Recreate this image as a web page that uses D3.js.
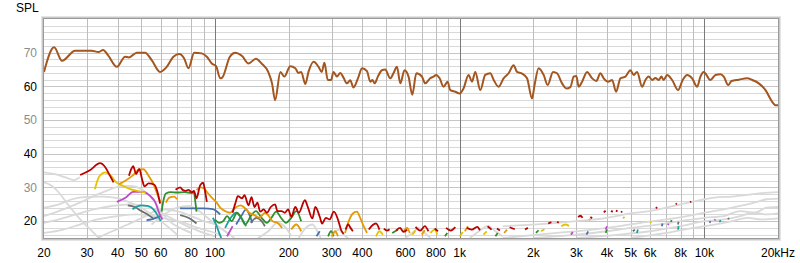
<!DOCTYPE html>
<html><head><meta charset="utf-8">
<script src="https://cdn.jsdelivr.net/npm/d3@7/dist/d3.min.js"></script>
<style>html,body{margin:0;padding:0;background:#fff;}svg{display:block;font-family:"Liberation Sans",Arial,sans-serif;}</style>
</head><body><svg id="c" width="800" height="263"></svg>
<script>
// ---- data ----
const yTicks = [20,30,40,50,60,70];
const yTickColors = {20:"#000",30:"#8c8c8c",40:"#000",50:"#8c8c8c",60:"#000",70:"#8c8c8c"};
const xTickVals = [20,30,40,50,60,80,100,200,300,400,600,800,1000,2000,3000,4000,5000,6000,8000,10000,20000];
const xTickLabels = ["20","30","40","50","60","80","100","200","300","400","600","800","1k","2k","3k","4k","5k","6k","8k","10k","20kHz"];

const mainFreq = [20,22,23.7,26.8,29.9,31.3,33.4,34.9,36.5,39.7,42.9,44.5,47.9,51.8,55.1,59.6,63.5,67.6,71.5,74.8,77.9,82.2,88.3,92.6,97,101,105,107,115,121,129,137,147,155,165,171,176,185,192,203,213,219,225,234,241,253,265,273,280,289,298,305,315,325,335,346,357,368,384,399,418,431,440,449,463,481,496,520,537,554,572,595,618,640,665,701,723,758,782,802,828,859,892,915,960,999,1037,1087,1123,1158,1214,1272,1334,1376,1442,1512,1585,1661,1716,1799,1885,1976,2019,2102,2204,2288,2408,2500,2621,2729,2835,2924,2998,3064,3164,3316,3476,3620,3758,3878,4042,4198,4358,4538,4756,4986,5144,5310,5566,5742,5924,6118,6310,6508,6676,6822,7044,7384,7812,8158,8504,8914,9344,9638,9942,10594,11104,11638,12006,12514,12910,13826,14964,15686,16692,17780,18940,19536,20000];
const mainSPL = [64.3,71.6,67.6,70.6,70.6,70.6,70.2,70.8,69.3,65.8,68.8,68.6,70.0,70.0,67.8,64.3,65.8,68.8,69.6,68.3,65.4,70.0,69.8,68.8,66.8,66.0,62.4,62.6,68.8,70.0,69.0,66.8,68.2,66.8,64.3,60.9,55.9,64.3,62.9,66.0,65.4,64.0,64.3,60.7,64.3,67.3,65.8,64.3,67.0,61.9,61.9,64.3,62.9,64.0,62.6,60.9,61.8,59.7,62.4,65.4,64.5,61.4,61.9,60.9,62.9,64.8,65.0,62.4,64.0,65.8,60.9,64.8,62.9,57.5,63.9,62.9,60.9,62.4,62.9,63.4,62.4,59.9,61.4,58.9,58.4,57.9,59.4,63.4,61.4,64.3,58.9,63.4,63.9,62.0,59.9,62.4,63.9,66.3,64.3,63.8,62.4,56.4,60.0,65.4,63.4,60.4,64.3,63.9,60.9,59.4,59.8,62.9,63.1,59.9,61.4,64.3,62.4,61.6,63.9,62.4,61.4,61.9,58.4,62.4,62.9,64.8,63.4,64.3,59.9,61.9,62.9,61.9,62.5,61.9,62.9,61.9,63.4,61.9,58.9,61.9,63.4,62.4,59.9,62.9,64.3,61.9,63.4,63.6,62.9,60.4,61.6,62.0,62.4,61.9,60.9,58.9,55.4,54.4,54.4];

// harmonic / other traces: [freq, dB], null = gap
const redTrace = [[28.1,33.7],[30.8,35.1],[33.9,37.2],[35.6,36],[37.2,33.5],[38.5,31.5],null,
 [44.5,33.5],[45.5,35.5],[46.3,36.3],[47.6,34],[49,35.5],[50.5,32],[51.5,30.3],[53.5,31.2],[56.5,30.8],[58,29],[59.6,25.2],null,
 [69,29.3],[72,30],[74,29.2],[76,29],[78,29.3],[80.4,28.5],[82,29],[84,26.8],[87,30.7],[89.4,31.4],[91,29],[92.6,25.7],null,
 [118,22.5],[121,25.2],[124,27.4],[129,26.8],[132,27.7],[137,24.7],[141,27.1],[145,24.2],[149,25.5],[153,22.8],[158,23.5],[163,22.5],[169,24.2],[176,25],[180,23],[187,23],[193,22.5],[199,23.5],[205,21.3],[213,24.2],[220,22.5],[233,26.2],[240,24],[250,20.8],[257,24.2],[268,21.3],[274,19.3],[284,21],[294,20.5],[306,22.8],[318,20.5],[328,17.3],[336,16.2],null,
 [342,17.5],[350,19],[358,18],[366,17],null,
 [425,17.5],[440,18.8],[455,19.3],[470,17.5],null,[490,17.8],[505,17.2],[517,17.6],null,[550,17.2],[570,18],[590,16.8],[610,17.5],null,
 [660,18.3],[690,17.2],[720,18.5],[745,17],null,[790,17.8],[815,17],null,[880,18],[920,17.2],[960,18.2],null,[1070,18],[1120,17.5],[1180,18.3],[1210,17.3],null,
 [1300,18.5],[1350,17.5],null,[1420,17.8],[1460,17.2],null,[1600,18.2],[1680,17.6],null,[1850,17.5],[1900,18],null,
 [2300,19.3],[2370,19.7],null,[2500,19.8],[2540,19.5],null,[3050,21.2],[3110,21.6],[3180,21],null,[3420,21.2],[3480,20.9],null,
 [3880,22.6],[3950,23.1],null,[4150,23],[4230,22.8],null,[4350,23.1],[4420,22.9],null,[4560,22.9],[4620,22.6],null,
 [6330,23.8],[6420,24.1],null,[7640,25],[7720,25.3],null,[8750,25.6],[8830,25.9]];
const orangeTrace = [[40.5,31],[43,32],[46,33.5],[49,35.3],[51,35.4],[53.5,33.5],[56,31],[58.5,27.5],[60,25.5],null,
 [63,25.5],[65,27],[68,27.3],[70,26.5],null,
 [84,29.2],[87,30],[90,29.8],[93,28.5],[97,27],[101,25.7],[105,24],[110,23],[115,22.5],[121,24],[127,24.7],[132,24],[138,22.5],[145,21.8],[152,21],[160,22.5],[166,21.5],[172,20],[180,19.5],[188,18],null,
 [205,17.5],[215,19],[225,17],null,[300,15.5],[310,17],[318,15.5],null,
 [340,16.5],[350,19.5],[365,22.2],[380,22.8],[392,21],[405,18.5],[418,16.5],null,
 [590,17],[610,18],[625,16.5],null,[700,16],[720,17.3],null,[1050,17],[1080,18.5],null,[1520,16.5],[1560,17.5]];
const yellowTrace = [[32.3,29.5],[33.5,33],[35.6,34.5],[37.5,33.5],[39.5,31.5],[42,30.5],[45,29.5],[48,29],[52,28.5],null,
 [455,15.5],[470,17],[485,16],null,[640,16],[660,17.2],null,[760,16.5],[790,17.5],[810,16],null,[1000,15.5],[1030,16.8],null,[1250,16],[1290,17],null,
 [2150,17],[2220,17.6],null,[2600,18.5],[2700,19],[2800,18.6],null,[3380,20.3],[3420,20.7],null,[4650,20.8],[4720,21.3],null,[6000,19.5],[6080,19.8]];
const greenTrace = [[60.5,22.8],[61.5,26],[63,28.2],[66,28.6],[70,28.5],[75,28.6],[80,28.4],[82,28.5],[83,26],[84,22.8],null,
 [100,20.5],[104,19.5],[108,20],[112,21.5],[117,20],[123,22.5],[128,21],[133,19],[140,21.5],[147,23],[155,21],[163,19.5],[170,21],[178,22.8],[186,21],[195,19.5],[205,21],[215,23],[225,20],null,
 [290,15.5],[298,17],[305,15.5],null,[530,16.5],[560,17.5],null,[870,15.5],[890,16.5],null,[1400,15.5],[1430,16.5],null,[2050,16.5],[2100,17.3],null,[3950,16.5],[4000,17.5],null,[7300,19.8],[7350,20.3]];
const tealTrace = [[46,23.5],[48,24.3],[50,24.7],[53,24.5],[56,23.5],[58.5,21.5],[60,20],null,
 [98,21],[101,19],[104,16.5],[106,15],null,[110,18],[116,21],[122,22.5],[128,21],[134,18.5],null,
 [5300,16.5],[5350,17.5],null,[7800,17.5],[7850,18.5],null,[11500,19.8],[11700,20.2]];
const blueTrace = [[52.5,20.3],[55,20.5],[57.5,21],[59.6,21.5],null,
 [72,23.8],[80,23.8],[90,23.8],[98,23.6],[102,22.8],[105,22],null,[122,19],[128,21.5],[134,23.5],[138,22],[142,19.5],null,
 [260,15.5],[268,17],null,[3300,16],[3350,17],null,[6700,18.5],[6750,19.3],null,[10500,19.5],[10600,20]];
const magentaTrace = [[39.7,25.7],[43.5,27.2],[46.2,28.7],[50.5,28.7],[54.3,27.5],[56.9,25.7],[59.6,21.8],[61,20.5],null,
 [112,15.5],[116,17.5],[118,18.5],null,[2850,16],[2900,16.8],null,[3950,17.5],[4000,18.5],null,[7100,18.8],[7150,19.3],null,[11000,20.2],[11100,20.5]];
const darkGrayTrace = [[44,24.7],[47,24.2],[50,23],[53,22],[56,20.8],null,[72,21.8],[76,21.3],[80,20.5],[84,19.3],null,
 [140,19.5],[148,21],[155,20],[160,18.5],null,[5100,17],[5200,17.5],null,[7800,19],[7850,19.8],null,[12500,20.5],[12600,21]];
const lightGrayTraces = [
 [[20,34.5],[22,34],[24.5,33],[26.5,32.2],[28,33]],
 [[20,31.5],[21.5,30.5],[23,28.5],[25,25],[27,22],[29,19.5],[31,17.5],[33,15.5],[34,15]],
 [[20,24],[23,25],[26,26.5],[30,27.2],[35,27.3],[40,26.8],[45,25.5],[50,24],[55,22],[60,20],[65,18],[70,16]],
 [[20,21.5],[24,23.5],[28,25.5],[32,27.5],[36,29],[40,30.2],[45,30.5],[50,29.5],[55,27],[60,23],[65,20],[72,18],[80,16.5]],
 [[20,19.5],[23,20.5],[27,22],[32,23.5],[38,24.5],[45,25],[52,24.5],[60,22.5],[70,20],[80,18],[90,16.5],[100,15.5]],
 [[20,16.5],[24,17.5],[28,19],[33,20.5],[40,21.5],[48,22],[56,21.5],[65,20.5],[75,19.5],[85,18],[95,17],[105,16]],
 [[33,15],[38,17],[44,19],[52,21.5],[60,23.5],[70,23],[80,21.5],[90,20],[100,19],[110,17],[120,15]],
 [[55,19],[62,22],[70,24],[78,24.5],[86,23],[95,20.5],[105,18],[115,16]],
 [[150,15],[165,17],[180,19.5],[195,18],[205,15.5]],
 [[220,15],[235,18],[250,19],[262,17],[270,15]],
 [[300,15],[320,17.5],[335,16],[350,15]],
 [[600,15],[640,16.5],[680,18],[720,16.5],[760,15]],
 [[1100,15],[1200,17],[1300,18.5],[1400,17],[1500,15.5]],
 [[1500,18.5],[2500,19.5],[3000,20],[4000,21],[5000,22.3],[6000,23],[7000,24],[8000,25],[9000,25.8],[10000,26.5],[11000,27],[13000,27.3],[15000,27.8],[17000,28.3],[20000,28.6]],
 [[1500,15],[2500,16.5],[3500,17.5],[4500,18.5],[5500,19.5],[7000,20.5],[8500,21.5],[10000,22.5],[12000,23.5],[14000,24.5],[16000,25.5],[18000,26.5],[20000,26.7]],
 [[2000,15],[3000,16],[4000,17],[5000,18],[6500,19],[8000,20],[10000,21],[12000,21.5],[14000,23],[16000,22.5],[18000,24],[20000,24.2]],
 [[3000,15],[4500,16],[6000,17],[8000,18.5],[10000,20],[12000,20.5],[14000,21.5],[16000,22.5],[18000,22],[20000,22.3]],
 [[5000,15],[7000,16.5],[9000,18],[11000,19],[13000,20],[15000,21],[17000,20.5],[20000,20.8]]
];

// ---- drawing ----
const svg = d3.select("#c");
const L=44, R=778, T=19, B=238;
const x = d3.scaleLog().domain([20,20000]).range([L,R]);
const y = d3.scaleLinear().domain([15,80]).range([B,T]);

// frame shadow
svg.append("rect").attr("x",L-3).attr("y",T-3).attr("width",R-L+6).attr("height",B-T+6).attr("fill","#e4e4e4");
svg.append("rect").attr("x",L-2).attr("y",T-2).attr("width",R-L+4).attr("height",B-T+4).attr("fill","#c8c8c8");
svg.append("rect").attr("x",L).attr("y",T).attr("width",R-L).attr("height",B-T).attr("fill","#fff");

const g = svg.append("g");
d3.range(16,80,2).forEach(v=>{
  g.append("line").attr("x1",L).attr("x2",R).attr("y1",Math.round(y(v))+0.5).attr("y2",Math.round(y(v))+0.5)
   .attr("stroke", v%10===0 ? "#c6c6c6" : "#d9d9d9").attr("stroke-width",1);
});
const vgrid = [];
[10,100,1000,10000].forEach(dec=>{for(let k=1;k<10;k++){const f=dec*k; if(f>20&&f<20000) vgrid.push(f);}});
vgrid.forEach(f=>{
  const major = (f===100||f===1000||f===10000);
  g.append("line").attr("y1",T).attr("y2",B).attr("x1",Math.round(x(f))+0.5).attr("x2",Math.round(x(f))+0.5)
   .attr("stroke", major ? "#7a7a7a" : "#bdbdbd").attr("stroke-width",1);
});

svg.append("defs").append("clipPath").attr("id","clip").append("rect").attr("x",L).attr("y",T).attr("width",R-L).attr("height",B-T);
const plot = svg.append("g").attr("clip-path","url(#clip)");
const line = d3.line().defined(d=>d!==null).x(d=>x(d[0])).y(d=>y(d[1])).curve(d3.curveMonotoneX);

lightGrayTraces.forEach(tr=>{
  plot.append("path").attr("d",line(tr)).attr("fill","none").attr("stroke","#d9d9d9").attr("stroke-width",1.8);
});
const colored = [
 [darkGrayTrace,"#6e6e6e"],[blueTrace,"#4a6fae"],[tealTrace,"#1aa0a0"],[magentaTrace,"#c04ac8"],
 [greenTrace,"#2f8f2f"],[yellowTrace,"#e8c200"],[orangeTrace,"#e69a00"],[redTrace,"#bb0000"]
];
colored.forEach(([tr,c])=>{
  plot.append("path").attr("d",line(tr)).attr("fill","none").attr("stroke",c).attr("stroke-width",1.8).attr("stroke-linejoin","round");
});
const mainData = mainFreq.map((f,i)=>[f,mainSPL[i]]);
plot.append("path").attr("d",line(mainData)).attr("fill","none").attr("stroke","#a3561f").attr("stroke-width",2).attr("stroke-linejoin","round");

svg.append("rect").attr("x",L-0.5).attr("y",T-0.5).attr("width",R-L+1).attr("height",B-T+1).attr("fill","none").attr("stroke","#9a9a9a").attr("stroke-width",1);

yTicks.forEach(v=>{
  svg.append("text").attr("x",37).attr("y",y(v)).attr("dy","0.35em").attr("text-anchor","end")
   .attr("font-size",12).attr("fill",yTickColors[v]).text(v);
});
xTickVals.forEach((f,i)=>{
  svg.append("text").attr("x",x(f)).attr("y",257).attr("text-anchor","middle")
   .attr("font-size",12).attr("fill","#000").text(xTickLabels[i]);
});
svg.append("text").attr("x",16).attr("y",12).attr("font-size",12).attr("fill","#000").text("SPL");
</script></body></html>
